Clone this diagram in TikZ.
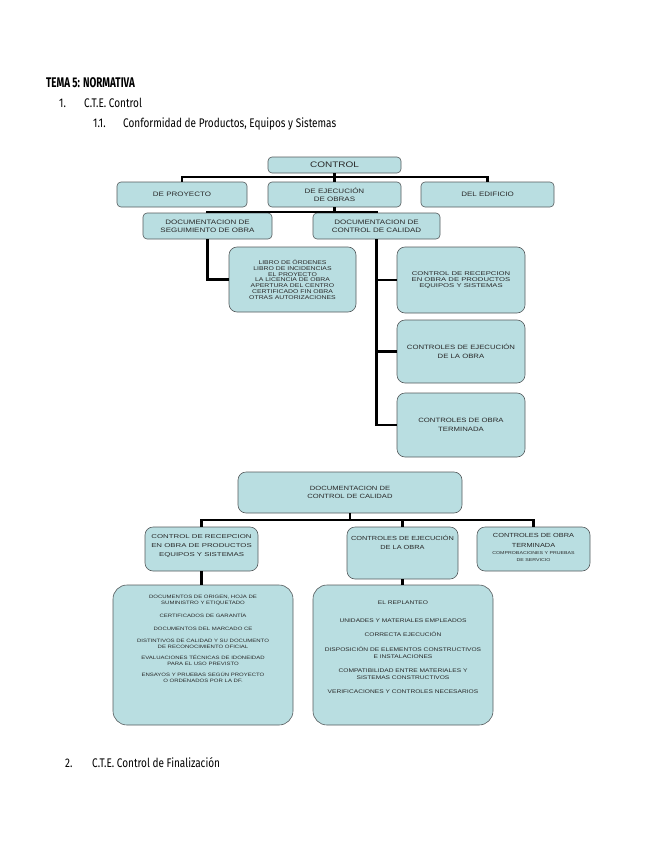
\documentclass[tikz,border=0pt]{standalone}
\usepackage{fontspec}
\newfontfamily\hdfont{Fira Sans}[FakeStretch=0.8]
\newfontfamily\hdbfont{Fira Sans}[FakeStretch=0.7]
\newfontfamily\bxfont{Liberation Sans}[FakeStretch=1.25]
\newfontfamily\bxwfont{Liberation Sans}[FakeStretch=1.4]
\definecolor{boxfill}{RGB}{185,222,225}
\definecolor{boxline}{RGB}{85,90,92}
\definecolor{boxtext}{RGB}{40,40,40}
\begin{document}
\begin{tikzpicture}[x=1pt,y=-1pt,
  cbox/.style={draw=boxline,fill=boxfill,line width=0.6pt,rounded corners=4pt,
    align=center,inner sep=1pt,text=boxtext},
  bigbox/.style={cbox,rounded corners=14pt},
  midbox/.style={cbox,rounded corners=8pt},
  txt/.style={inner sep=0pt,align=center,text=boxtext,anchor=north},
  conn/.style={line width=2.6pt,black},
  fa/.style={font=\bxfont\fontsize{8}{9}\selectfont},
  fb/.style={font=\bxfont\fontsize{6.4}{7.6}\selectfont},
  fc/.style={font=\bxfont\fontsize{5.5}{5.8}\selectfont},
  fd/.style={font=\bxfont\fontsize{6.2}{8.5}\selectfont},
  fe/.style={font=\bxfont\fontsize{4.8}{6}\selectfont},
  hd/.style={anchor=base west,inner sep=0pt,font=\hdfont\fontsize{12.5}{14}\selectfont}
]
\useasboundingbox (0,0) rectangle (655,848);
% headings
\node[anchor=base west,inner sep=0pt,font=\hdbfont\bfseries\fontsize{14}{16}\selectfont] (h0) at (46,88) {TEMA 5: NORMATIVA};
\node[hd] (h1n) at (59,108) {1.};
\node[hd] (h1) at (84,108) {C.T.E. Control};
\node[hd] (h2n) at (93,128) {1.1.};
\node[hd] (h2) at (123,128) {Conformidad de Productos, Equipos y Sistemas};
\node[hd] (h3n) at (65,767) {2.};
\node[hd] (h3) at (92,767) {C.T.E. Control de Finalización};

% upper tree
\node[cbox,fa,minimum width=133pt,minimum height=16pt] (ctrl) at (334.5,165) {CONTROL};
\node[cbox,fb,minimum width=130pt,minimum height=25pt] (proy) at (182,194.5) {DE PROYECTO};
\node[cbox,fb,minimum width=133pt,minimum height=25pt] (ejec) at (334.5,194.5) {DE EJECUCIÓN\\DE OBRAS};
\node[cbox,fb,minimum width=133pt,minimum height=25pt] (edif) at (487.5,194.5) {DEL EDIFICIO};
\node[cbox,fb,minimum width=129pt,minimum height=26pt] (dso) at (207.5,226) {DOCUMENTACION DE\\SEGUIMIENTO DE OBRA};
\node[cbox,fb,minimum width=127pt,minimum height=26pt] (dcc) at (376.5,226) {DOCUMENTACION DE\\CONTROL DE CALIDAD};
\node[midbox,fc,minimum width=127pt,minimum height=65pt] (libro) at (292.5,279.5)
  {LIBRO DE ÓRDENES\\LIBRO DE INCIDENCIAS\\EL PROYECTO\\LA LICENCIA DE OBRA\\APERTURA DEL CENTRO\\CERTIFICADO FIN OBRA\\OTRAS AUTORIZACIONES};
\node[midbox,font=\bxwfont\fontsize{5.5}{5.9}\selectfont,minimum width=128pt,minimum height=66pt] (r1) at (461,280)
  {CONTROL DE RECEPCION\\EN OBRA DE PRODUCTOS\\EQUIPOS Y SISTEMAS};
\node[midbox,fd,minimum width=128pt,minimum height=63pt] (r2) at (461,351.5)
  {CONTROLES DE EJECUCIÓN\\DE LA OBRA};
\node[midbox,fd,minimum width=128pt,minimum height=64pt] (r3) at (461,425)
  {CONTROLES DE OBRA\\TERMINADA};

\coordinate (bus1) at (334.5,177);
\coordinate (bus2) at (334.5,212);
\draw[conn] (ctrl.south) -- (ejec.north);
\draw[conn] (proy.north) |- (bus1) -| (edif.north);
\draw[conn] (ejec.south) -- (bus2);
\draw[conn] (dso.north) |- (bus2) -| (dcc.north);
\draw[conn] (dso.south) |- (libro.west);
\draw[conn] (dcc.south) |- (r1.west);
\draw[conn] (dcc.south) |- (r2.west);
\draw[conn] (dcc.south) |- (r3.west);

% lower tree
\node[midbox,font=\bxfont\fontsize{6.1}{8}\selectfont,minimum width=224pt,minimum height=41pt] (bdcc) at (350,492.5)
  {DOCUMENTACION DE\\CONTROL DE CALIDAD};
\node[midbox,minimum width=113pt,minimum height=44pt] (b1) at (201.5,549) {};
\node[txt,font=\bxwfont\fontsize{5.6}{9}\selectfont] (b1t) at (201.5,534)
  {CONTROL DE RECEPCION\\EN OBRA DE PRODUCTOS\\EQUIPOS Y SISTEMAS};
\node[midbox,minimum width=111pt,minimum height=52pt] (b2) at (402.5,553) {};
\node[txt,font=\bxfont\fontsize{5.9}{8.5}\selectfont] (b2t) at (402.5,535.5)
  {CONTROLES DE EJECUCIÓN\\DE LA OBRA};
\node[midbox,minimum width=113pt,minimum height=44pt] (b3) at (533.5,549) {};
\node[txt,font=\bxfont\fontsize{5.9}{10}\selectfont] (b3t) at (533.5,533)
  {CONTROLES DE OBRA\\TERMINADA};
\node[txt,font=\bxfont\fontsize{4.2}{6.8}\selectfont] (b3s) at (533.5,551.5)
  {COMPROBACIONES Y PRUEBAS\\DE SERVICIO};
\node[bigbox,minimum width=180pt,minimum height=140pt] (big1) at (203,655) {};
\node[txt,fe] (big1t) at (203,595)
  {DOCUMENTOS DE ORIGEN, HOJA DE\\SUMINISTRO Y ETIQUETADO\\[7pt]
   CERTIFICADOS DE GARANTÍA\\[7pt]
   DOCUMENTOS DEL MARCADO CE\\[6pt]
   DISTINTIVOS DE CALIDAD Y SU DOCUMENTO\\DE RECONOCIMIENTO OFICIAL\\[5pt]
   EVALUACIONES TÉCNICAS DE IDONEIDAD\\PARA EL USO PREVISTO\\[5pt]
   ENSAYOS Y PRUEBAS SEGÚN PROYECTO\\O ORDENADOS POR LA DF.};
\node[bigbox,minimum width=180pt,minimum height=140pt] (big2) at (403,655) {};
\node[txt,font=\bxfont\fontsize{5.3}{6.8}\selectfont] (big2t) at (403,601)
  {EL REPLANTEO\\[11pt]
   UNIDADES Y MATERIALES EMPLEADOS\\[7pt]
   CORRECTA EJECUCIÓN\\[8pt]
   DISPOSICIÓN DE ELEMENTOS CONSTRUCTIVOS\\E INSTALACIONES\\[8pt]
   COMPATIBILIDAD ENTRE MATERIALES Y\\SISTEMAS CONSTRUCTIVOS\\[7pt]
   VERIFICACIONES Y CONTROLES NECESARIOS};

\coordinate (bus3) at (350,520);
\draw[conn] (bdcc.south) -- (bus3);
\draw[conn] (b1.north) |- (bus3) -| (b3.north);
\draw[conn] (b2.north) -- (b2.north |- bus3);
\draw[conn] (b1.south) -- (b1.south |- big1.north);
\draw[conn] (b2.south) -- (b2.south |- big2.north);
\end{tikzpicture}
\end{document}
